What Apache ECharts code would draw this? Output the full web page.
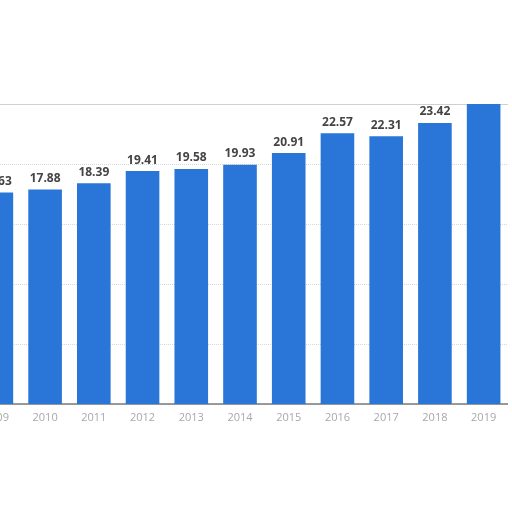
<!DOCTYPE html>
<html>
<head>
<meta charset="utf-8">
<script src="https://cdn.jsdelivr.net/npm/echarts@6/dist/echarts.min.js"></script>
<style>
  html,body{margin:0;padding:0;background:#fff;overflow:hidden;width:512px;height:512px;}
  /* the picture is a crop: first and last bars are cut by the edges */
  #main{position:absolute;left:-28px;top:0;width:536px;height:512px;}
</style>
</head>
<body>
<div id="main"></div>
<script>
// 数据
let years=["2009","2010","2011","2012","2013","2014","2015","2016","2017","2018","2019"];
let values=[17.63,17.88,18.39,19.41,19.58,19.93,20.91,22.57,22.31,23.42,25.6];
let yTicks=[0,5,10,15,20,25];

let chart=echarts.init(document.getElementById('main'));

let option={
  animation:false,
  grid:{
    left:0,
    right:0,
    top:104,
    bottom:108
  },
  xAxis:[{
    type:'category',
    data:years,
    axisLine:{lineStyle:{color:'#7a7a7a',width:1.5}},
    axisTick:{show:false},
    axisLabel:{color:'#a8a8a8',fontSize:11,margin:8,fontFamily:'Open Sans'}
  },{
    // top frame line of the plot
    type:'category',
    data:years,
    position:'top',
    axisLine:{lineStyle:{color:'#d0d0d0',width:1}},
    axisTick:{show:false},
    axisLabel:{show:false}
  }],
  yAxis:{
    type:'value',
    min:yTicks[0],
    max:yTicks[yTicks.length-1],
    interval:5,
    axisLabel:{show:false},
    axisLine:{show:false},
    axisTick:{show:false},
    splitLine:{lineStyle:{color:'#d8d8d8',type:'dotted'}}
  },
  series:[{
    type:'bar',
    // last bar runs past the top of the plot, its label is not shown
    data:values.map((v,i)=>i===values.length-1?{value:v,label:{show:false}}:v),
    barCategoryGap:'31%',
    clip:true,
    itemStyle:{color:'#2a76d8'},
    label:{
      show:true,
      position:'top',
      distance:5,
      color:'#444444',
      fontWeight:'bold',
      fontSize:12,
      fontFamily:'Open Sans'
    }
  }]
};

chart.setOption(option);
</script>
</body>
</html>
